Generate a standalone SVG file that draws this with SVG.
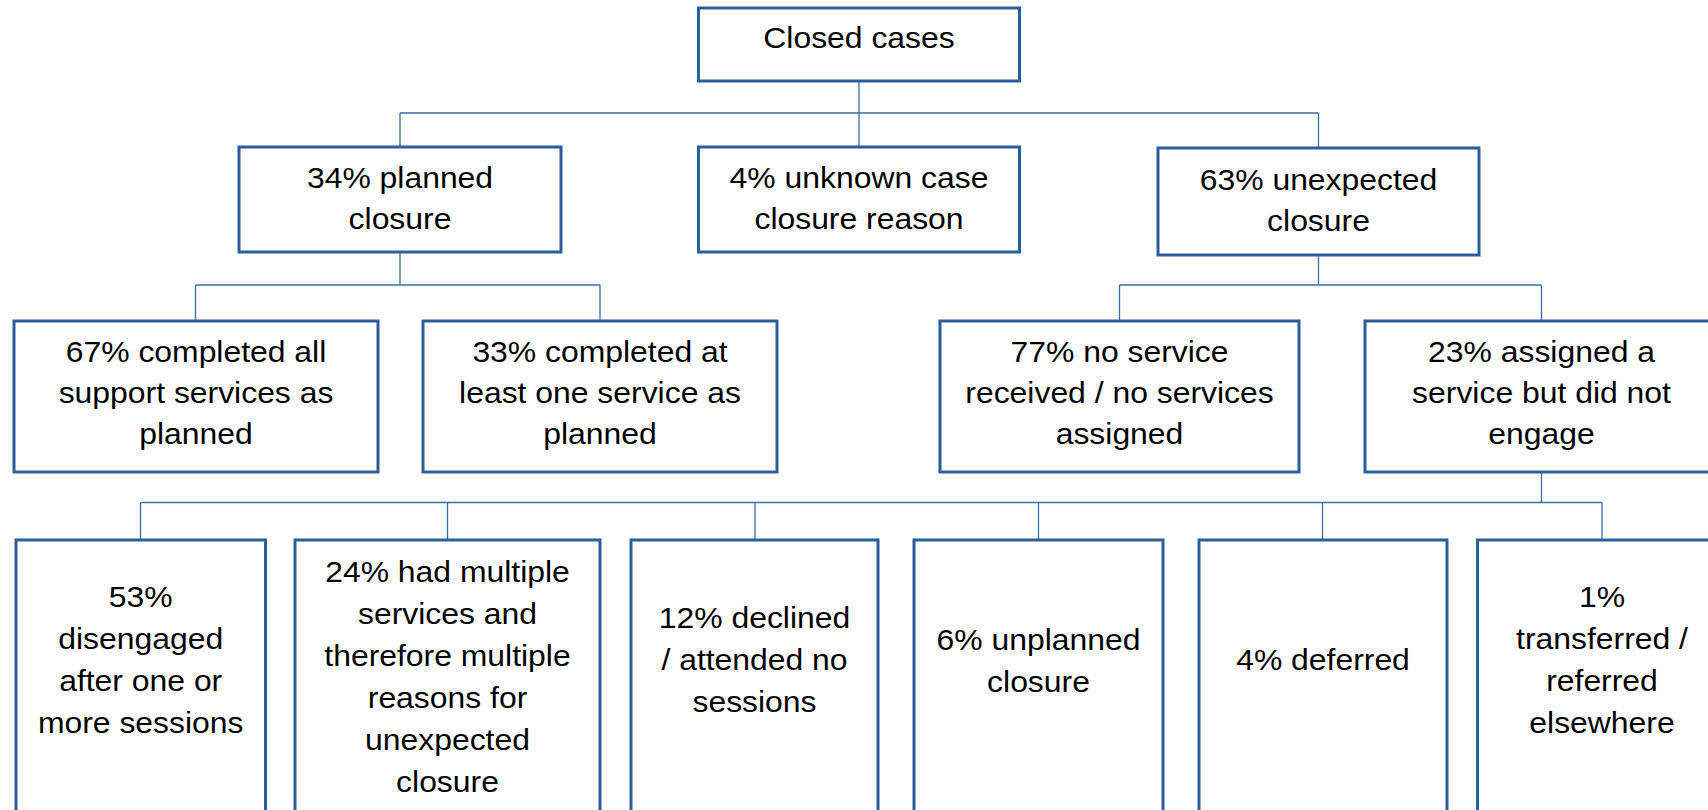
<svg xmlns="http://www.w3.org/2000/svg" width="1708" height="810" viewBox="0 0 1708 810">
<style>
.box{fill:#fff;stroke:#2B5F9C;stroke-width:3}
.lbl{font-family:"Liberation Sans",Arial,sans-serif;font-size:29px;fill:#000;text-anchor:middle}
.con{fill:none;stroke:#3A6CA5;stroke-width:1.3}
</style>
<rect width="1708" height="810" fill="#fff"/>
<g id="connectors">
<path class="con" d="M859 81V113M400 113H1318.5M400 113V147M859 113V147M1318.5 113V148"/>
<path class="con" d="M400 252V285M195.5 285H600M195.5 285V321M600 285V321"/>
<path class="con" d="M1318.5 255V285M1119.5 285H1541.5M1119.5 285V321M1541.5 285V321"/>
<path class="con" d="M1541.5 472V502.5M140.5 502.5H1602M140.5 502.5V540M447.5 502.5V540M755 502.5V540M1038.5 502.5V540M1322.5 502.5V540M1602 502.5V540"/>
</g>
<g id="root">
<rect class="box" x="698.5" y="8" width="321" height="73"/>
<text class="lbl" transform="translate(859 0) scale(1.1 1)" x="0" y="48">Closed cases</text>
</g>
<g id="planned">
<rect class="box" x="239" y="147" width="322" height="105"/>
<text class="lbl" transform="translate(400 0) scale(1.1 1)" y="188"><tspan x="0">34% planned</tspan><tspan x="0" dy="41">closure</tspan></text>
</g>
<g id="unknown">
<rect class="box" x="698.5" y="147" width="321" height="105"/>
<text class="lbl" transform="translate(859 0) scale(1.1 1)" y="188"><tspan x="0">4% unknown case</tspan><tspan x="0" dy="41">closure reason</tspan></text>
</g>
<g id="unexpected">
<rect class="box" x="1158" y="148" width="321" height="107"/>
<text class="lbl" transform="translate(1318.5 0) scale(1.1 1)" y="190"><tspan x="0">63% unexpected</tspan><tspan x="0" dy="41">closure</tspan></text>
</g>
<g id="completed-all">
<rect class="box" x="14" y="321" width="364" height="151"/>
<text class="lbl" transform="translate(196 0) scale(1.1 1)" y="362"><tspan x="0">67% completed all</tspan><tspan x="0" dy="41">support services as</tspan><tspan x="0" dy="41">planned</tspan></text>
</g>
<g id="completed-one">
<rect class="box" x="423" y="321" width="354" height="151"/>
<text class="lbl" transform="translate(600 0) scale(1.1 1)" y="362"><tspan x="0">33% completed at</tspan><tspan x="0" dy="41">least one service as</tspan><tspan x="0" dy="41">planned</tspan></text>
</g>
<g id="no-service">
<rect class="box" x="940" y="321" width="359" height="151"/>
<text class="lbl" transform="translate(1119.5 0) scale(1.1 1)" y="362"><tspan x="0">77% no service</tspan><tspan x="0" dy="41">received / no services</tspan><tspan x="0" dy="41">assigned</tspan></text>
</g>
<g id="assigned">
<rect class="box" x="1365" y="321" width="353" height="151"/>
<text class="lbl" transform="translate(1541.5 0) scale(1.1 1)" y="362"><tspan x="0">23% assigned a</tspan><tspan x="0" dy="41">service but did not</tspan><tspan x="0" dy="41">engage</tspan></text>
</g>
<g id="disengaged">
<rect class="box" x="16" y="540" width="249.5" height="280"/>
<text class="lbl" transform="translate(140.7 0) scale(1.1 1)" y="607"><tspan x="0">53%</tspan><tspan x="0" dy="42">disengaged</tspan><tspan x="0" dy="42">after one or</tspan><tspan x="0" dy="42">more sessions</tspan></text>
</g>
<g id="multiple">
<rect class="box" x="295" y="540" width="305" height="280"/>
<text class="lbl" transform="translate(447.5 0) scale(1.1 1)" y="582"><tspan x="0">24% had multiple</tspan><tspan x="0" dy="42">services and</tspan><tspan x="0" dy="42">therefore multiple</tspan><tspan x="0" dy="42">reasons for</tspan><tspan x="0" dy="42">unexpected</tspan><tspan x="0" dy="42">closure</tspan></text>
</g>
<g id="declined">
<rect class="box" x="631" y="540" width="247" height="280"/>
<text class="lbl" transform="translate(754.5 0) scale(1.1 1)" y="628"><tspan x="0">12% declined</tspan><tspan x="0" dy="42">/ attended no</tspan><tspan x="0" dy="42">sessions</tspan></text>
</g>
<g id="unplanned">
<rect class="box" x="914" y="540" width="249" height="280"/>
<text class="lbl" transform="translate(1038.5 0) scale(1.1 1)" y="650"><tspan x="0">6% unplanned</tspan><tspan x="0" dy="42">closure</tspan></text>
</g>
<g id="deferred">
<rect class="box" x="1199" y="540" width="248" height="280"/>
<text class="lbl" transform="translate(1323 0) scale(1.1 1)" x="0" y="670">4% deferred</text>
</g>
<g id="transferred">
<rect class="box" x="1477.5" y="540" width="249.5" height="280"/>
<text class="lbl" transform="translate(1602 0) scale(1.1 1)" y="607"><tspan x="0">1%</tspan><tspan x="0" dy="42">transferred /</tspan><tspan x="0" dy="42">referred</tspan><tspan x="0" dy="42">elsewhere</tspan></text>
</g>
</svg>
